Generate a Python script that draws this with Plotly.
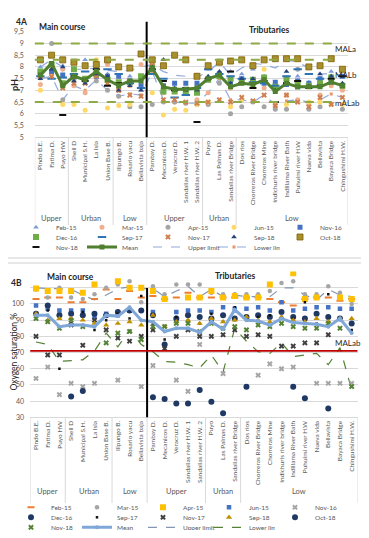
import plotly.graph_objects as go

# ---------------- data ----------------
sites = ["Pindo B.E.", "Fatima D.", "Puyo HW", "Shell D", "Municipal S.H.", "La Isla",
         "Union Base B.", "Ilipungo B.", "Rosario yacu", "Bellavista baja",
         "Pambay D.", "Mecanicos D.", "Veracruz D.", "Sandalias river H.W. 1",
         "Sandalias river H.W. 2", "Puyo", "Las Palmas D.", "Sandalias river Bridge",
         "Dos rios", "Chorreras River Bridge", "Chorreras Mine", "Indichuris river bridge",
         "Indillama River Bath", "Puhuimi river H.W", "Nueva vida", "Bellavista",
         "Bayaca Bridge", "Chingushimi H.W."]
group_labels = ["Upper", "Urban", "Low", "Upper", "Urban", "Low"]
group_sizes = [3, 4, 3, 5, 3, 10]

ph_tickvals = [5, 5.5, 6, 6.5, 7, 7.5, 8, 8.5, 9, 9.5]
ph_ticktext = ["5", "5,5", "6", "6,5", "7", "7,5", "8", "8,5", "9", "9,5"]
ox_tickvals = [30, 40, 50, 60, 70, 80, 90, 100, 110, 120]
ox_ticktext = ["30", "40", "50", "60", "70", "80", "90", "100", "", ""]

ph_mal_values = [9.0, 8.3, 6.5]
ph_mal_labels = ["MALa", "MALb", "mALab"]
ox_mal_value = 71
ox_mal_label = "MALab"

ph_feb15 = [8.0, 8.1, 8.05, 7.5, 8.3, 8.1, 7.7, 7.3, 7.6, 7.0, 7.9, 8.3, None, None, 7.65, 7.9, 7.65, 7.8, 7.7, 7.9, 7.6, 7.25, 7.55, 7.6, 7.35, 7.5, 7.8, 7.9]
ph_mar15 = [7.25, 8.0, 7.9, 7.2, 6.9, 7.7, 8.1, 7.0, 7.2, 8.1, 8.1, 6.9, 6.5, None, 6.6, 6.9, 7.6, 7.1, 6.6, 7.3, 7.1, 6.4, 6.8, 6.6, 6.4, 6.8, 7.2, 7.0]
ph_apr15 = [None, 9.0, 6.6, 7.5, 7.5, 7.4, 7.0, 6.75, 6.3, 6.3, 6.4, 6.5, 6.5, 6.45, 6.4, 6.4, 7.3, 6.0, 6.3, 6.5, 6.3, 6.2, 6.2, 7.9, 6.2, 6.3, 7.6, 6.2]
ph_jun15 = [7.0, 7.6, 6.4, 6.4, 6.15, 8.3, 6.25, 6.35, 6.4, None, 6.9, 5.95, 6.2, 6.15, 6.4, 6.5, None, 6.3, 6.6, 8.1, 7.9, None, 6.4, None, 6.5, 6.5, 6.4, 6.4]
ph_nov16 = [7.7, 7.8, 7.65, 7.6, 7.5, 7.6, 7.6, 7.6, 7.4, 7.2, 7.9, 7.2, 7.3, 7.3, 7.3, 7.5, 7.7, 7.4, 7.5, 7.4, 7.3, 7.35, 7.25, 7.4, 7.3, 7.5, 7.4, 7.6]
ph_dec16 = [7.8, 8.1, 7.3, 7.9, 7.5, 7.7, 7.45, 7.35, 7.35, 7.6, 7.95, 6.95, 6.95, 6.95, 6.9, 7.45, 7.6, 7.5, 7.35, 7.45, 7.55, 7.15, 7.5, 7.25, 7.2, 7.3, 7.55, 7.2]
ph_sep17 = [7.6, 7.5, 7.55, 7.7, 7.8, 7.65, 7.9, 7.7, 7.3, 7.1, 7.7, 7.5, 6.7, 6.8, 7.1, 7.9, 7.7, 7.6, 7.5, 7.35, 7.3, 7.2, 7.6, 7.9, 7.7, 7.5, 7.3, 7.6]
ph_nov17 = [7.6, 7.6, 7.1, 7.3, 7.3, 7.6, 7.3, 7.0, 6.8, 6.75, 8.05, 6.6, 6.6, 6.5, 6.45, 6.5, 6.6, 6.5, 6.7, 6.55, 6.8, 6.35, 6.8, 6.5, 6.3, 6.7, 6.4, 6.7]
ph_sep18 = [7.5, 7.9, 8.0, 7.4, 7.3, 7.7, 7.6, 7.0, 7.2, 7.0, 8.0, 8.3, 7.1, 7.0, 7.0, 7.6, 7.8, 7.3, 7.5, 7.5, 7.4, 7.0, 7.8, 7.1, 7.2, 7.7, 7.6, 7.3]
ph_oct18 = [8.3, 8.5, 8.3, 8.2, 8.05, 8.1, 8.3, 8.0, 7.95, 8.55, 8.3, 8.05, 8.5, 8.3, 7.6, 8.05, 8.2, 8.25, 8.3, 8.05, 8.3, 8.35, 8.35, 8.35, 8.0, 8.05, 8.35, 7.9]
ph_nov18 = [None, None, 5.95, 7.6, 7.4, 7.9, 7.2, 7.3, None, None, 7.9, 7.4, 7.0, 7.1, 5.65, 7.5, None, 7.8, 7.3, 7.1, 7.4, 6.5, 7.3, 7.4, 7.1, 7.2, 7.5, 7.6]
ph_mean = [7.65, 8.15, 7.2, 7.6, 7.45, 7.8, 7.45, 7.2, 7.4, 7.4, 7.95, 7.15, 7.05, 7.05, 7.1, 7.5, 7.65, 7.15, 7.3, 7.25, 7.45, 6.95, 7.3, 7.15, 7.15, 7.15, 7.35, 7.2]
ph_upper = [8.0, 8.3, 8.0, 7.9, 7.9, 7.95, 7.85, 7.8, 7.85, 8.0, 8.1, 7.8, 7.65, 7.6, 7.55, 7.8, 8.2, 7.65, 7.95, 8.15, 8.1, 7.95, 8.3, 8.2, 7.95, 7.7, 7.7, 7.65]
ph_lower = [7.5, 7.6, 6.6, 7.2, 7.0, 7.45, 7.0, 6.75, 6.85, 6.8, 7.8, 6.6, 6.5, 6.45, 6.45, 6.9, 7.5, 6.6, 6.6, 6.5, 6.8, 6.4, 6.55, 6.6, 6.5, 6.6, 6.85, 6.7]

ox_feb15 = [103, 104, 104, 101, 101, 103, 109, 103, 108, 104, 105, 103, 104, 107, 104, 104, 104, 104, 104, 104, 103, 101, 99, 103, 104, 104, 102, 103]
ox_mar15 = [109, 104, 110, 104, 103, 106, 110, 112, 114, 101, 111, 106, 112, 112, 112, 107, 106, 106, 106, 106, 108, 113, 114, 106, 106, 111, 107, 100]
ox_apr15 = [109.5, 108, 108, 108, 107, 112, None, 114, 110, 110, 108, 103, None, 104, 104, 108, 104, 105, 104, 104, 112, None, 119, 103, 104, None, 104, 103]
ox_jun15 = [99, 97, 96, 96, 96, 92, 94, 93, 96, None, 95, None, 95, 96, 96, 95, 98, 97, 97, 98, 96, 101, 96, 97, 98, 98, 97, 97]
ox_nov16 = [54, 61, 44, 51, 49, 51, None, 53, None, 49, 62, None, 53, 46, 75, None, 57, None, None, 56, 63, 60, 61, None, 51, 51, 51, 51]
ox_dec16 = [94, 99, 93, 94, 93, 94, 93, 95, 96, 96, 93, 75, 91, 93, 92, 91, 93, 91, 92, 93, 92, 95, 92, 91, 94, 92, 91, 88]
ox_sep17 = [None, 96, 60, 88, 95, 84, 90, 94, 91, 105, 88, 78, 92, 90, 88, 94, 89, 98, 90, 92, 93, 92, 91, 101, 88, 106, 91, 84]
ox_nov17 = [80, 68.5, 68.5, 87, 74.5, 90, 84, 79, 77, 80, 84, 72.5, 80, 84, 80, 80, 81, 84, 80, 81, 80, 74, 74, 76, 76, 81, None, None]
ox_sep18 = [94, 90, 91, 91, 90, 88, 87, 88, 89, 87, 93, 86, 89, 90, 88, 91, 89, 90, 92, 90, 89, 92, 90, 89, 91, 89, 91, 91]
ox_oct18 = [None, None, None, 42.8, 46.3, None, None, None, None, None, 42.4, 41.3, 38.6, 38.6, 46.9, 39.6, 32.5, None, 48.9, None, None, None, 48.9, 41.7, None, 35.5, None, None]
ox_nov18 = [91, 89, 85, 90, 86, None, 76, 82, 83, 78, 86, 86, 88, 88, 83, 88, 85, 86, 84, 87, 86, 88, 86, 85, 85, 88, 85, 49]
ox_mean = [93, 93, 86, 87, 87, 86, 93, 92.5, 98, 90, 89, 83, 85, 85, 82.5, 89, 84.5, 96.5, 90, 89.5, 87, 91, 88.5, 88, 87.5, 86, 91, 82]
ox_upper = [110, 109.5, 109.5, 109, 105.5, 102.5, 105.5, 109.5, 110.5, 109.5, 109.5, 104.5, 108, 111, 104.5, 109, 104.5, 105.5, 104.5, 104.5, 104.5, 110, 110, 105.5, 102.5, 109, 105.5, 104.5]
ox_lower = [76.5, 75, 64.5, 65, 65.5, 71, 82, 73.5, 84, 75, 70.5, 64.5, 64, 62.5, 60.5, 68.5, 58, 85, 77, 70.5, 69.5, 76, 67.5, 68.5, 69.5, 62.5, 73, 47]

# ---------------- helpers ----------------
# The page body keeps the browser's default 8 px margin, so the figure is sized to fit
# inside the 369x538 window and positions below are given in window pixels.
OFF = 8
W, H = 369 - 2 * OFF, 538 - 2 * OFF
FONT = "Lato"
GRAY = "#595959"


def px(x):
    return (x - OFF) / W


def py(y):
    return 1 - (y - OFF) / H


fig = go.Figure()


def pts(name, y, axes, legend, rank, symbol, color, size, lw=0, lc=None):
    xa, ya = axes
    fig.add_trace(go.Scatter(
        x=sites, y=y, name=name, mode="markers", xaxis=xa, yaxis=ya,
        legend=legend, legendrank=rank,
        marker=dict(symbol=symbol, color=color, size=size,
                    line=dict(width=lw, color=lc or color))))


def line(name, y, axes, legend, rank, color, width, dash="solid", marker=None):
    xa, ya = axes
    fig.add_trace(go.Scatter(
        x=sites, y=y, name=name, mode="lines+markers" if marker else "lines",
        xaxis=xa, yaxis=ya, legend=legend, legendrank=rank,
        line=dict(color=color, width=width, dash=dash), marker=marker,
        connectgaps=True))


A = ("x", "y")
B = ("x2", "y2")

# ---- panel A (pH) ----
line("Upper limit", ph_upper, A, "legend3", 3, "#8FAADC", 1.2, "dash")
line("Lower limit", ph_lower, A, "legend3", 4, "#8FAADC", 1.2, "dash",
     marker=dict(symbol="square", size=3, color="#E59866"))
pts("Feb-15", ph_feb15, A, "legend", 1, "triangle-up", "#7F9ED6", 5)
pts("Mar-15", ph_mar15, A, "legend", 2, "circle", "#F0B090", 5)
pts("Apr-15", ph_apr15, A, "legend", 3, "circle", "#A5A5A5", 5)
pts("Jun-15", ph_jun15, A, "legend", 4, "circle", "#FFD966", 5)
pts("Nov-16", ph_nov16, A, "legend", 5, "square", "#4472C4", 5)
pts("Dec-16", ph_dec16, A, "legend2", 1, "square", "#70AD47", 6)
pts("Sep-17", ph_sep17, A, "legend2", 2, "line-ew", "#2E75B6", 6, 2)
pts("Nov-17", ph_nov17, A, "legend2", 3, "x", "#D08050", 5)
pts("Sep-18", ph_sep18, A, "legend2", 4, "triangle-up", "#264478", 5)
pts("Oct-18", ph_oct18, A, "legend2", 5, "square", "#A8902E", 6, 0.8, "#7F6000")
pts("Nov-18", ph_nov18, A, "legend3", 1, "line-ew", "#111111", 5, 2)
line("Mean", ph_mean, A, "legend3", 2, "#4F7F2F", 3,
     marker=dict(symbol="square", size=5, color="#4F7F2F"))

# ---- panel B (oxygen saturation) ----
line("Upper limit", ox_upper, B, "legend6", 3, "#8497B0", 1.2, "dash")
line("Lower limit", ox_lower, B, "legend6", 4, "#548235", 1.2, "dash")
pts("Feb-15", ox_feb15, B, "legend4", 1, "line-ew", "#ED7D31", 5, 2)
pts("Mar-15", ox_mar15, B, "legend4", 2, "circle", "#A5A5A5", 4.5)
pts("Apr-15", ox_apr15, B, "legend4", 3, "square", "#FFC000", 6)
pts("Jun-15", ox_jun15, B, "legend4", 4, "square", "#4472C4", 4.5)
pts("Nov-16", ox_nov16, B, "legend4", 5, "x", "#A5A5A5", 5)
pts("Dec-16", ox_dec16, B, "legend5", 1, "circle", "#203864", 6)
pts("Sep-17", ox_sep17, B, "legend5", 2, "square", "#111111", 2.5)
pts("Nov-17", ox_nov17, B, "legend5", 3, "x", "#404040", 5)
pts("Sep-18", ox_sep18, B, "legend5", 4, "triangle-up", "#BF9000", 5.5)
pts("Oct-18", ox_oct18, B, "legend5", 5, "circle", "#1F3864", 6)
pts("Nov-18", ox_nov18, B, "legend6", 1, "x", "#548235", 5)
line("Mean", ox_mean, B, "legend6", 2, "#7FA7D8", 3,
     marker=dict(symbol="circle", size=4, color="#7FA7D8"))

# ---------------- axes ----------------
cat_axis = dict(type="category", categoryorder="array", categoryarray=sites,
                tickmode="linear", tick0=0, dtick=1, tickangle=-90,
                tickfont=dict(family=FONT, size=6.5, color=GRAY),
                showgrid=False, showline=True, linecolor="#D9D9D9",
                ticks="", zeroline=False, range=[-0.5, len(sites) - 0.5])
val_axis = dict(showgrid=True, gridcolor="#D9D9D9", gridwidth=1, zeroline=False,
                tickfont=dict(family=FONT, size=7, color=GRAY), ticks="",
                tickmode="array", showline=False)

A_L, A_R, A_T, A_B = 34.8, 348.0, 31.7, 137.3
B_L, B_R, B_T, B_B = 30.2, 357.5, 271.6, 417.3

fig.update_layout(
    xaxis=dict(cat_axis, domain=[px(A_L), px(A_R)], anchor="y"),
    yaxis=dict(val_axis, domain=[py(A_B), py(A_T)], range=[5, 9.5],
               tickvals=ph_tickvals, ticktext=ph_ticktext, anchor="x",
               ticklabelstandoff=10),
    xaxis2=dict(cat_axis, domain=[px(B_L), px(B_R)], anchor="y2"),
    yaxis2=dict(val_axis, domain=[py(B_B), py(B_T)], range=[30, 120],
                tickvals=ox_tickvals, ticktext=ox_ticktext, anchor="x2",
                ticklabelstandoff=5),
)

# ---------------- legends ----------------
def leg(x, y):
    return dict(orientation="h", x=px(x), y=py(y), xanchor="left", yanchor="middle",
                entrywidth=21, entrywidthmode="pixels", bgcolor="rgba(0,0,0,0)",
                font=dict(family=FONT, size=6.5, color=GRAY), itemwidth=30,
                tracegroupgap=0, borderwidth=0)


fig.update_layout(
    legend=leg(16, 227.3), legend2=leg(16, 237), legend3=leg(16, 247),
    legend4=leg(11, 507.3), legend5=leg(11, 517.3), legend6=leg(11, 527.3),
)

# ---------------- shapes & annotations ----------------
shapes = []
annotations = []

# panel frame edges between the two charts
for yy in (258, 263):
    shapes.append(dict(type="line", xref="paper", yref="paper", x0=0, x1=1,
                       y0=py(yy), y1=py(yy), line=dict(color="#D0D0D0", width=1)))

# group dividers + labels
bounds = [-0.5]
for s in group_sizes:
    bounds.append(bounds[-1] + s)
for xa, axis_px, bot_px, lab_px in (("x", A_B, 225, 218.3), ("x2", B_B, 503, 498.3)):
    for b in bounds:
        shapes.append(dict(type="line", xref=xa, yref="paper", x0=b, x1=b,
                           y0=py(bot_px), y1=py(axis_px),
                           line=dict(color="#D9D9D9", width=1)))
    for i, g in enumerate(group_labels):
        annotations.append(dict(x=(bounds[i] + bounds[i + 1]) / 2, xref=xa, y=py(lab_px),
                                yref="paper", text=g, showarrow=False,
                                font=dict(family=FONT, size=7.5, color=GRAY)))

# main course / tributaries separators
shapes.append(dict(type="line", xref="x", yref="paper", x0=bounds[3], x1=bounds[3],
                   y0=py(A_B), y1=py(21.7), line=dict(color="#000000", width=2)))
shapes.append(dict(type="line", xref="x2", yref="paper", x0=bounds[3], x1=bounds[3],
                   y0=py(B_B), y1=py(288), line=dict(color="#000000", width=2)))

# MAL reference lines
for v in ph_mal_values:
    shapes.append(dict(type="line", xref="x domain", yref="y", x0=0, x1=0.95, y0=v, y1=v,
                       line=dict(color="#8FA944", width=2, dash="dash")))
shapes.append(dict(type="line", xref="x2 domain", yref="y2", x0=0, x1=1,
                   y0=ox_mal_value, y1=ox_mal_value, line=dict(color="#C00000", width=1.8)))

for lab, ypx in zip(ph_mal_labels, (41.7, 68.3, 95.7)):
    annotations.append(dict(x=px(333), y=py(ypx), xref="paper", yref="paper", text=lab,
                            xanchor="left", showarrow=False,
                            font=dict(family=FONT, size=8, color="#262626")))
annotations.append(dict(x=px(333), y=py(342.7), xref="paper", yref="paper", text=ox_mal_label,
                        xanchor="left", showarrow=False,
                        font=dict(family=FONT, size=8, color="#262626")))


# titles
def txt(t, x, y, size, bold=True, angle=0, anchor="left", color="#262626"):
    annotations.append(dict(x=px(x), y=py(y), xref="paper", yref="paper",
                            text=f"<b>{t}</b>" if bold else t, showarrow=False,
                            xanchor=anchor, textangle=angle,
                            font=dict(family=FONT, size=size, color=color)))


txt("4A", 14, 15, 8.5)
txt("Main course", 37, 20, 8.5)
txt("Tributaries", 247, 23, 8.5)
txt("pH", 14, 77, 9, angle=-90, anchor="center")
txt("4B", 9, 283, 8.5)
txt("Main course", 45, 277, 8.5)
txt("Tributaries", 213, 276, 8.5)
txt("Oxygen saturation %", 13.5, 352, 8.5, bold=False, angle=-90, anchor="center")

fig.update_layout(
    width=W, height=H, margin=dict(l=0, r=0, t=0, b=0, autoexpand=False),
    paper_bgcolor="white", plot_bgcolor="white",
    font=dict(family=FONT, color=GRAY),
    shapes=shapes, annotations=annotations,
)

fig.write_html("out.html")
